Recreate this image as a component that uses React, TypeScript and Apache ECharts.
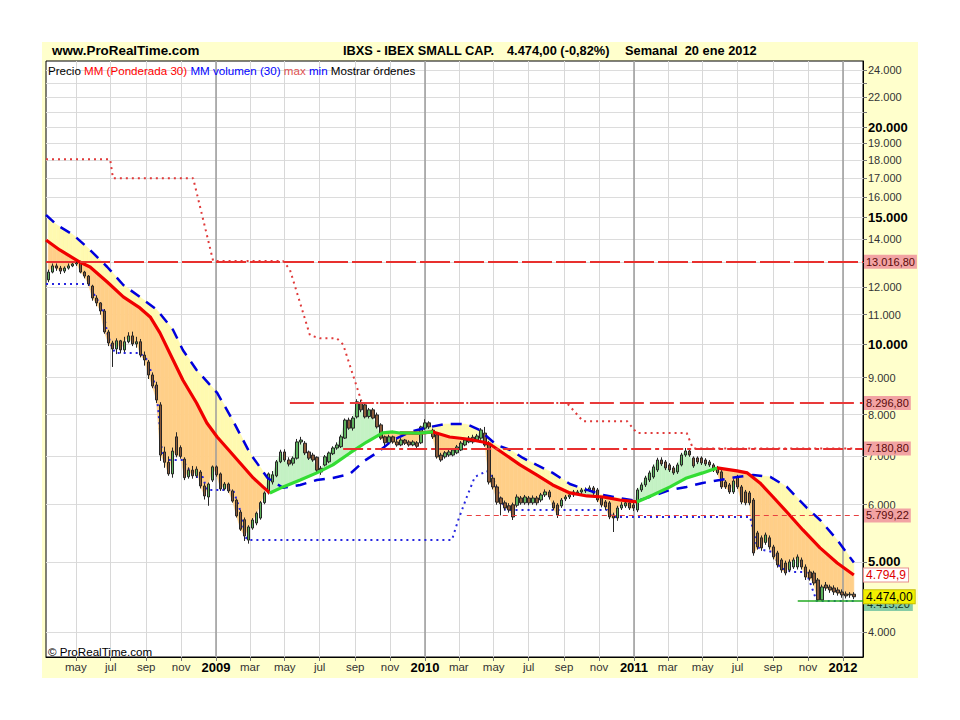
import React, { useEffect, useRef } from "react";
import * as echarts from "echarts";

const FONT = "'Liberation Sans', Arial, Helvetica, sans-serif";

// ---------- data (weekly candles, first week ending 2008-03-14) ----------
const firstWeek = "2008-03-14";
const opens = [
  12290, 12600, 12850, 12760, 12640, 12760, 12850, 12930, 12990, 12600,
  12440, 12050, 11600, 11420, 11130, 10410, 10050, 9860, 10120, 9830,
  10090, 10280, 10020, 10090, 9670, 9460, 9075, 8790, 8250, 7100,
  6870, 6620, 7450, 7200, 6940, 6560, 6700, 6580, 6660, 6370,
  6150, 6490, 6770, 6620, 6310, 6410, 6270, 6090, 5860, 5720,
  5360, 5570, 5660, 5750, 6040, 6230, 6450, 6580, 6880, 7100,
  6920, 6850, 6960, 7330, 7300, 7100, 7030, 6980, 6740, 6810,
  6880, 7060, 7190, 7220, 7420, 7860, 7660, 7940, 8300, 8250,
  7950, 8120, 7990, 7740, 7450, 7310, 7450, 7330, 7260, 7375,
  7330, 7260, 7310, 7310, 7660, 7790, 7610, 7500, 7030, 6990,
  7030, 7030, 7080, 7145, 7260, 7330, 7440, 7375, 7420, 7540,
  7305, 6530, 6350, 6130, 6036, 5980, 6000, 5990, 6130, 6036,
  6130, 6036, 6130, 6091, 6190, 6250, 6036, 5996, 5977, 6111,
  6150, 6190, 6230, 6250, 6270, 6290, 6331, 6290, 6130, 6054,
  6036, 5807, 5752, 5938, 5977, 6036, 5996, 5900, 6290, 6391,
  6492, 6556, 6704, 6920, 6877, 6812, 6747, 6662, 6812, 7032,
  7122, 6965, 6965, 6965, 6920, 6877, 6812, 6747, 6662, 6452,
  6391, 6250, 6556, 6351, 6250, 6230, 6091, 5484, 5399, 5320,
  5399, 5245, 5145, 5031, 4983, 4873, 4920, 4920, 5031, 4920,
  4842, 4826, 4720, 4429, 4645, 4616, 4601, 4572, 4543, 4514,
  4500, 4511,
];
const closes = [
  12600, 12850, 12760, 12640, 12760, 12850, 12930, 12990, 12600, 12440,
  12130, 11600, 11420, 11130, 10410, 10050, 9860, 10120, 9830, 10090,
  10280, 10020, 10090, 9670, 9520, 9075, 8760, 8380, 7030, 6870,
  6620, 7120, 7030, 7000, 6540, 6700, 6580, 6720, 6370, 6170,
  6410, 6770, 6600, 6310, 6410, 6270, 6070, 5790, 5550, 5430,
  5590, 5715, 5840, 6040, 6230, 6620, 6600, 6880, 7100, 6920,
  6830, 6960, 7330, 7375, 7077, 6960, 6920, 6700, 6660, 6990,
  7077, 7190, 7260, 7450, 7860, 7660, 7910, 8330, 8120, 7940,
  8120, 7910, 7690, 7420, 7310, 7450, 7330, 7260, 7375, 7300,
  7260, 7330, 7230, 7690, 7790, 7690, 7450, 6990, 6920, 7080,
  7100, 7145, 7215, 7305, 7375, 7420, 7330, 7470, 7615, 7260,
  6450, 6350, 6050, 6020, 5940, 5900, 5770, 6150, 6036, 6150,
  6036, 6130, 6036, 6190, 6250, 6150, 5938, 5807, 6091, 6150,
  6190, 6250, 6250, 6290, 6290, 6331, 6230, 6091, 5996, 5958,
  5771, 5752, 5938, 5996, 6036, 5938, 5938, 6290, 6391, 6535,
  6641, 6769, 6920, 6834, 6747, 6704, 6641, 6812, 7032, 7122,
  7032, 6790, 6877, 6855, 6834, 6812, 6704, 6641, 6351, 6351,
  6250, 6472, 6351, 6054, 6036, 6036, 5145, 5245, 5228, 5449,
  5245, 5080, 4952, 4873, 4826, 4999, 5031, 5080, 4920, 4765,
  4750, 4675, 4429, 4616, 4601, 4572, 4543, 4529, 4500, 4486,
  4511, 4474,
];
const lows = [
  12200, 12550, 12650, 12520, 12560, 12700, 12800, 12850, 12550, 12350,
  12050, 11500, 11300, 11000, 10350, 9950, 9310, 9700, 9720, 9760,
  10040, 9950, 9900, 9600, 9350, 8960, 8700, 8300, 6900, 6750,
  6580, 6540, 6980, 6950, 6490, 6520, 6520, 6540, 6320, 6100,
  5980, 6450, 6560, 6270, 6280, 6230, 6040, 5760, 5520, 5345,
  5300, 5540, 5620, 5720, 6010, 6200, 6400, 6550, 6850, 6880,
  6780, 6800, 6930, 7270, 7030, 6920, 6880, 6660, 6600, 6780,
  6850, 7030, 7150, 7190, 7400, 7620, 7600, 7900, 8060, 7900,
  7900, 7880, 7650, 7380, 7210, 7280, 7290, 7220, 7230, 7260,
  7220, 7230, 7190, 7280, 7620, 7640, 7400, 6950, 6880, 6950,
  6990, 7000, 7050, 7120, 7230, 7300, 7290, 7330, 7380, 7220,
  6400, 6300, 6000, 5800, 5890, 5850, 5715, 5950, 6000, 6000,
  5990, 6000, 5990, 6050, 6150, 6100, 5900, 5752, 5940, 6070,
  6110, 6150, 6190, 6210, 6230, 6250, 6190, 6050, 5950, 5900,
  5730, 5500, 5700, 5900, 5940, 5900, 5880, 5860, 6250, 6350,
  6450, 6520, 6660, 6790, 6700, 6660, 6600, 6620, 6780, 6990,
  6990, 6750, 6830, 6810, 6790, 6770, 6660, 6600, 6310, 6310,
  6210, 6210, 6310, 6010, 5990, 5990, 5100, 5200, 5180, 5280,
  5200, 5040, 4910, 4830, 4790, 4840, 4890, 4880, 4880, 4720,
  4710, 4640, 4415, 4420, 4560, 4530, 4500, 4490, 4460, 4450,
  4460, 4440,
];
const highs = [
  12700, 12950, 12950, 12850, 12830, 12950, 13000, 13080, 13060, 12650,
  12480, 12100, 11700, 11450, 11200, 10480, 10120, 10200, 10150, 10250,
  10400, 10420, 10250, 10180, 9780, 9520, 9150, 8880, 8320, 7220,
  7000, 7200, 7560, 7250, 6980, 6760, 6790, 6780, 6700, 6420,
  6440, 6800, 6800, 6650, 6450, 6440, 6300, 6120, 5900, 5760,
  5620, 5750, 5870, 6070, 6260, 6650, 6680, 6920, 7150, 7160,
  6980, 7000, 7400, 7450, 7350, 7130, 7080, 7000, 6790, 7030,
  7110, 7230, 7320, 7500, 7900, 7920, 7960, 8400, 8380, 8300,
  8170, 8170, 8050, 7780, 7480, 7500, 7480, 7400, 7420, 7400,
  7370, 7370, 7350, 7720, 7880, 7830, 7650, 7540, 7080, 7120,
  7150, 7180, 7260, 7350, 7420, 7470, 7500, 7520, 7660, 7690,
  7350, 6600, 6400, 6160, 6080, 6030, 6040, 6200, 6170, 6190,
  6170, 6180, 6170, 6230, 6300, 6290, 6080, 6030, 6130, 6190,
  6230, 6290, 6290, 6330, 6340, 6380, 6370, 6330, 6170, 6090,
  6070, 5850, 5980, 6050, 6070, 6080, 6040, 6330, 6440, 6580,
  6690, 6820, 6970, 6980, 6920, 6850, 6790, 6860, 7080, 7190,
  7170, 7000, 7000, 7000, 6960, 6920, 6850, 6790, 6700, 6490,
  6430, 6510, 6600, 6390, 6290, 6270, 6130, 5520, 5440, 5490,
  5440, 5280, 5180, 5060, 5020, 5040, 5070, 5120, 5070, 4960,
  4880, 4860, 4750, 4650, 4690, 4650, 4640, 4610, 4580, 4550,
  4540, 4540,
];

// MM (Ponderada 30)
const maPoints: [string, number][] = [
  ["2008-03-10", 13956], ["2008-04-03", 13520], ["2008-05-08", 13010], ["2008-05-26", 12805],
  ["2008-06-25", 12208], ["2008-07-23", 11640], ["2008-08-21", 11238], ["2008-09-08", 10920],
  ["2008-09-25", 10378], ["2008-10-18", 9520], ["2008-11-04", 8930], ["2008-11-28", 8299],
  ["2008-12-16", 7786], ["2009-01-03", 7447], ["2009-01-20", 7191], ["2009-02-12", 6855],
  ["2009-03-07", 6535], ["2009-03-24", 6351], ["2009-04-05", 6230], ["2009-04-28", 6351],
  ["2009-05-28", 6492], ["2009-06-26", 6641], ["2009-07-24", 6812], ["2009-08-23", 7077],
  ["2009-09-21", 7328], ["2009-10-19", 7543], ["2009-11-06", 7567], ["2009-11-18", 7543],
  ["2009-12-23", 7540], ["2010-01-15", 7567], ["2010-02-13", 7447], ["2010-03-15", 7400],
  ["2010-04-12", 7328], ["2010-04-24", 7283], ["2010-05-17", 7077], ["2010-06-16", 6812],
  ["2010-07-15", 6598], ["2010-08-12", 6391], ["2010-09-11", 6230], ["2010-10-11", 6170],
  ["2010-11-08", 6150], ["2010-12-07", 6091], ["2011-01-06", 6054], ["2011-02-03", 6190],
  ["2011-03-05", 6351], ["2011-04-03", 6535], ["2011-05-01", 6641], ["2011-05-26", 6747],
  ["2011-06-30", 6683], ["2011-07-18", 6641], ["2011-08-09", 6432], ["2011-09-01", 6150],
  ["2011-09-25", 5862], ["2011-10-23", 5536], ["2011-11-22", 5228], ["2011-12-22", 4983],
  ["2012-01-20", 4795],
];
const maRisingRanges: [string, string][] = [
  ["2009-04-05", "2009-11-18"],
  ["2009-12-23", "2010-01-15"],
  ["2011-01-06", "2011-05-26"],
];

// MM volumen (30)
const volMaPoints: [string, number][] = [
  ["2008-03-10", 15115], ["2008-03-29", 14640], ["2008-04-27", 14182], ["2008-05-26", 13520],
  ["2008-06-25", 12805], ["2008-07-23", 12092], ["2008-08-21", 11638], ["2008-09-20", 11166],
  ["2008-10-18", 10477], ["2008-11-04", 9829], ["2008-11-28", 9220], ["2009-01-03", 8570],
  ["2009-01-30", 7860], ["2009-03-01", 7077], ["2009-04-01", 6535], ["2009-04-28", 6331],
  ["2009-05-28", 6391], ["2009-06-26", 6492], ["2009-07-24", 6535], ["2009-08-23", 6620],
  ["2009-09-17", 6900], ["2009-10-11", 7100], ["2009-11-06", 7375], ["2009-12-06", 7567],
  ["2010-01-01", 7664], ["2010-02-05", 7760], ["2010-03-15", 7760], ["2010-04-06", 7615],
  ["2010-05-06", 7260], ["2010-05-30", 7145], ["2010-06-21", 6965], ["2010-07-15", 6812],
  ["2010-08-12", 6641], ["2010-09-11", 6411], ["2010-10-11", 6290], ["2010-11-08", 6190],
  ["2010-12-07", 6130], ["2011-01-06", 6072], ["2011-02-03", 6170], ["2011-03-05", 6290],
  ["2011-04-03", 6351], ["2011-05-01", 6432], ["2011-05-31", 6492], ["2011-06-30", 6556],
  ["2011-07-28", 6598], ["2011-08-27", 6556], ["2011-09-25", 6351], ["2011-10-30", 5938],
  ["2011-11-22", 5715], ["2011-12-22", 5362], ["2012-01-20", 4990],
];

// max / min
const maxPoints: [string, number][] = [
  ["2008-03-10", 18050], ["2008-06-30", 18050], ["2008-07-05", 17000], ["2008-11-22", 17000],
  ["2008-12-27", 13050], ["2009-04-28", 13050], ["2009-05-10", 12700], ["2009-06-14", 10300],
  ["2009-07-02", 10200], ["2009-07-31", 10200], ["2009-08-11", 10000], ["2009-09-13", 8297],
  ["2010-09-06", 8297], ["2010-10-04", 7830], ["2010-12-20", 7830], ["2011-01-06", 7543],
  ["2011-04-03", 7543], ["2011-04-14", 7181], ["2012-01-20", 7181],
];
const minPoints: [string, number][] = [
  ["2008-03-10", 12130], ["2008-05-17", 12130], ["2008-05-26", 12092], ["2008-06-04", 11640],
  ["2008-06-16", 11300], ["2008-06-25", 10378], ["2008-07-03", 9924], ["2008-07-09", 9736],
  ["2008-08-21", 9736], ["2008-09-03", 9520], ["2008-09-17", 8761], ["2008-09-22", 8140],
  ["2008-09-29", 7010], ["2008-10-07", 6920], ["2008-11-04", 6920], ["2008-11-11", 6769],
  ["2008-11-25", 6556], ["2008-12-09", 6556], ["2008-12-16", 6290], ["2009-01-31", 6290],
  ["2009-02-12", 5900], ["2009-02-21", 5415], ["2009-02-26", 5362], ["2010-02-17", 5362],
  ["2010-02-28", 5715], ["2010-03-15", 6150], ["2010-03-29", 6556], ["2010-04-19", 6680],
  ["2010-04-28", 6577], ["2010-05-12", 6150], ["2010-05-21", 5900], ["2010-11-15", 5900],
  ["2010-11-24", 5770], ["2011-07-23", 5770], ["2011-07-28", 5536], ["2011-08-04", 5245],
  ["2011-08-14", 5194], ["2011-09-01", 5160], ["2011-09-13", 4905], ["2011-10-05", 4842],
  ["2011-10-29", 4842], ["2011-11-16", 4415], ["2012-01-20", 4415],
];

// horizontal levels
const levelValues = [13016.8, 8296.8, 7180.8, 5799.22];
const levelStarts = ["2008-03-10", "2009-05-10", "2009-08-11", "2010-03-15"];
const supportValue = 4415.2;
const supportStart = "2011-10-14";
const lastClose = 4474.0;
const lastMA = 4794.9;

// axes
const yTickValues = [4000, 5000, 6000, 7000, 8000, 9000, 10000, 11000, 12000, 14000,
  15000, 16000, 17000, 18000, 19000, 20000, 22000, 24000];
const yExtraTicks = [13000, 21000, 23000];
const yBoldValues = [5000, 10000, 15000, 20000];
const monthNames = ["ene", "feb", "mar", "abr", "may", "jun", "jul", "ago", "sep", "oct", "nov", "dic"];
const yearLines = ["2009-01-01", "2010-01-01", "2011-01-01", "2012-01-01"];
const X_MIN = "2008-03-10";
const X_MAX = "2012-02-05";
const Y_MIN = 3692;
const Y_MAX = 24700;

// ---------- helpers ----------
const DAY = 86400000;
const T = (s: string) => Date.parse(s + "T00:00:00Z");
function fmtNum(v: number, dec: number) {
  const s = v.toFixed(dec);
  const [i, f] = s.split(".");
  const is = i.replace(/\B(?=(\d{3})+(?!\d))/g, ".");
  return f ? is + "," + f : is;
}
function interp(pts: number[][], t: number) {
  if (t <= pts[0][0]) return pts[0][1];
  for (let k = 0; k < pts.length - 1; k++) {
    const a = pts[k], b = pts[k + 1];
    if (t <= b[0]) return a[1] + ((b[1] - a[1]) * (t - a[0])) / (b[0] - a[0]);
  }
  return pts[pts.length - 1][1];
}

export default function App() {
  const ref = useRef<HTMLDivElement>(null);
  useEffect(() => {
    if (!ref.current) return;
    const chart = echarts.init(ref.current, undefined, { renderer: "svg" });

    const weekT = opens.map((_, i) => T(firstWeek) + i * 7 * DAY);
    const candleData = weekT.map((t, i) => [t, opens[i], closes[i], lows[i], highs[i]]);
    const ma = maPoints.map((p) => [T(p[0]), p[1]]);
    const vol = volMaPoints.map((p) => [T(p[0]), p[1]]);
    const rising = maRisingRanges.map((r) => [T(r[0]), T(r[1])]);
    const isRising = (t: number) => rising.some((r) => t >= r[0] && t <= r[1]);
    const isFalling = (t: number) => !rising.some((r) => t > r[0] && t < r[1]);
    const maRed = ma.map((p) => (isFalling(p[0]) ? p : [p[0], null]));
    const maGreen = ma.map((p) => (isRising(p[0]) ? p : [p[0], null]));

    const xMin = T(X_MIN), xMax = T(X_MAX);
    const xTicks: number[] = [];
    for (let y = 2008; y <= 2012; y++)
      for (let m = 0; m < 12; m += 2) {
        const t = Date.UTC(y, m, 1);
        if (t > xMin && t < xMax) xTicks.push(t);
      }

    const ORANGE = "#FFCF88", GREENF = "#C4F2C4", YELLOW = "#FFFAB0";

    const renderFills = (params: any, api: any) => {
      const children: any[] = [];
      for (let i = 0; i < weekT.length - 1; i++) {
        const t0 = weekT[i], t1 = weekT[i + 1];
        const m0 = interp(ma, t0), m1 = interp(ma, t1);
        const b0 = interp(vol, t0), b1 = interp(vol, t1);
        if (b0 + b1 > m0 + m1) {
          children.push({
            type: "polygon",
            shape: { points: [api.coord([t0, m0]), api.coord([t1, m1]), api.coord([t1, b1]), api.coord([t0, b0])] },
            style: { fill: YELLOW, stroke: YELLOW, lineWidth: 0.6 },
          });
        }
      }
      for (let i = 0; i < weekT.length - 1; i++) {
        const t0 = weekT[i], t1 = weekT[i + 1];
        const m0 = interp(ma, t0), m1 = interp(ma, t1);
        const c0 = closes[i], c1 = closes[i + 1];
        const col = c0 + c1 < m0 + m1 ? ORANGE : GREENF;
        children.push({
          type: "polygon",
          shape: { points: [api.coord([t0, c0]), api.coord([t1, c1]), api.coord([t1, m1]), api.coord([t0, m0])] },
          style: { fill: col, stroke: col, lineWidth: 0.6 },
        });
      }
      return { type: "group", children };
    };

    const levelStyles = [
      { color: "#E8302E", width: 2, type: [30, 4] },
      { color: "#E83A3A", width: 2, type: [24, 6] },
      { color: "#E83030", width: 2, type: [20, 4, 4, 4] },
      { color: "#E84040", width: 1.2, type: [5, 4] },
    ];
    const pinkLabel = (text: string) => ({
      show: true, position: "end", distance: 1, formatter: text,
      backgroundColor: "#F2A3A3", color: "#5A0A0A", fontSize: 11, fontFamily: FONT,
      padding: [2, 2, 1, 2],
    });

    const levelMarkData: any[] = levelValues.map((v, k) => [
      { coord: [T(levelStarts[k]), v], lineStyle: levelStyles[k], label: pinkLabel(fmtNum(v, 2)) },
      { coord: [xMax, v] },
    ]);
    levelMarkData.push([
      {
        coord: [T(supportStart), supportValue],
        lineStyle: { color: "#22AA22", width: 1.5, type: "solid" },
        label: {
          show: true, position: "end", distance: 1, formatter: fmtNum(supportValue, 2),
          backgroundColor: "#86CCA6", color: "#103020", fontSize: 11, fontFamily: FONT, padding: [2, 3, 1, 3],
          offset: [0, 3],
        },
      },
      { coord: [xMax, supportValue] },
    ]);

    const hidden = { color: "rgba(0,0,0,0)", width: 0.01, type: "solid" };

    const option: any = {
      animation: false,
      backgroundColor: "transparent",
      textStyle: { fontFamily: FONT },
      grid: {
        left: 46, right: 97, top: 61, bottom: 63,
        show: true, backgroundColor: "#FFFFFF", borderColor: "#000", borderWidth: 1,
      },
      xAxis: {
        type: "value", min: xMin, max: xMax, scale: true,
        axisLine: { show: true, lineStyle: { color: "#000" } },
        axisTick: { show: true, customValues: xTicks, length: 4, lineStyle: { color: "#777" } },
        axisLabel: {
          customValues: xTicks, margin: 4, fontSize: 11.5, color: "#333", fontFamily: FONT,
          formatter: (val: number) => {
            const d = new Date(val);
            const m = d.getUTCMonth();
            return m === 0 ? "{y|" + d.getUTCFullYear() + "}" : monthNames[m];
          },
          rich: { y: { fontSize: 13, fontWeight: "bold", color: "#000", fontFamily: FONT } },
        },
        splitLine: { show: true, lineStyle: { color: "#D8D8D8", width: 1 } },
      },
      yAxis: {
        type: "log", logBase: 10, min: Y_MIN, max: Y_MAX, position: "right",
        axisLine: { show: true, lineStyle: { color: "#000" } },
        axisTick: { show: true, customValues: yTickValues.concat(yExtraTicks), length: 4, lineStyle: { color: "#777" } },
        axisLabel: {
          customValues: yTickValues, margin: 5, fontSize: 11, color: "#333", fontFamily: FONT,
          formatter: (v: number) => {
            const r = Math.round(v);
            const s = fmtNum(r, 0);
            return yBoldValues.indexOf(r) >= 0 ? "{b|" + s + "}" : s;
          },
          rich: { b: { fontSize: 13, fontWeight: "bold", color: "#000", fontFamily: FONT } },
        },
        splitLine: { show: true, lineStyle: { color: "#DCDCDC", width: 1 } },
      },
      graphic: [
        { type: "text", left: 52, top: 44, style: { text: "www.ProRealTime.com", font: "bold 13.4px " + FONT, fill: "#000" } },
        { type: "text", left: 343, top: 44, style: { text: "IBXS - IBEX SMALL CAP.", font: "bold 12.8px " + FONT, fill: "#000" } },
        { type: "text", left: 507, top: 44, style: { text: "4.474,00 (-0,82%)", font: "bold 12.8px " + FONT, fill: "#000" } },
        { type: "text", left: 625, top: 44, style: { text: "Semanal  20 ene 2012", font: "bold 12.8px " + FONT, fill: "#000" } },
        {
          type: "text", left: 48, top: 64, z: 100,
          style: {
            text: "{k|Precio} {r|MM (Ponderada 30)} {b|MM volumen (30)} {m|max} {b|min} {k|Mostrar órdenes}",
            font: "11.6px " + FONT,
            rich: {
              k: { fill: "#000", fontSize: 11.6, fontFamily: FONT },
              r: { fill: "#FF0000", fontSize: 11.6, fontFamily: FONT },
              b: { fill: "#0000FF", fontSize: 11.6, fontFamily: FONT },
              m: { fill: "#E05050", fontSize: 11.6, fontFamily: FONT },
            },
          },
        },
        { type: "text", left: 48, top: 645, z: 100, style: { text: "© ProRealTime.com", font: "11.6px " + FONT, fill: "#000" } },
      ],
      series: [
        {
          type: "custom", name: "fills", z: 1, silent: true,
          data: [[weekT[0], closes[0]]], encode: { x: 0, y: 1 },
          renderItem: renderFills,
        },
        {
          type: "line", name: "years", z: 2, silent: true,
          data: [[xMax, 10000]], symbol: "none", lineStyle: hidden,
          markLine: {
            silent: true, symbol: ["none", "none"], z: 2,
            lineStyle: { color: "#9C9C9C", width: 1.5, type: "solid" },
            label: { show: false },
            data: yearLines.map((s) => ({ xAxis: T(s) })),
          },
        },
        {
          type: "line", name: "max", z: 3, data: maxPoints.map((p) => [T(p[0]), p[1]]),
          symbol: "none", lineStyle: { color: "#E03A3A", width: 2, type: [2, 4], cap: "butt" },
        },
        {
          type: "line", name: "min", z: 3, data: minPoints.map((p) => [T(p[0]), p[1]]),
          symbol: "none", lineStyle: { color: "#2626E0", width: 2, type: [2, 4], cap: "butt" },
        },
        {
          type: "candlestick", name: "Precio", z: 5, data: candleData, encode: { x: 0, y: [1, 2, 3, 4] },
          barWidth: 3,
          itemStyle: { color: "#5DB35D", color0: "#8A5A3A", borderColor: "#262626", borderColor0: "#262626", borderWidth: 1 },
        },
        {
          type: "line", name: "MM volumen (30)", z: 6, data: vol, symbol: "none",
          lineStyle: { color: "#0000DD", width: 2.5, type: [11, 8] },
        },
        {
          type: "line", name: "MM red", z: 7, data: maRed, symbol: "none", connectNulls: false,
          lineStyle: { color: "#F00000", width: 3.2 },
        },
        {
          type: "line", name: "MM green", z: 7, data: maGreen, symbol: "none", connectNulls: false,
          lineStyle: { color: "#33DD33", width: 3.2 },
        },
        {
          type: "line", name: "levels", z: 8, silent: true,
          data: [[xMax, 10000]], symbol: "none", lineStyle: hidden,
          markLine: { silent: true, symbol: ["none", "none"], z: 8, data: levelMarkData },
        },
        {
          type: "line", name: "lastLabels", z: 10, silent: true,
          data: [[xMax, 10000]], symbol: "none", lineStyle: hidden,
          markLine: {
            silent: true, symbol: ["none", "none"], z: 10,
            data: [
              [
                {
                  coord: [xMin, lastMA], lineStyle: hidden,
                  label: {
                    show: true, position: "end", distance: 1, formatter: fmtNum(lastMA, 1),
                    backgroundColor: "#FFFFFF", borderColor: "#E89090", borderWidth: 1,
                    color: "#E00000", fontSize: 12, fontFamily: FONT, padding: [1, 2, 0, 2],
                  },
                },
                { coord: [xMax, lastMA] },
              ],
              [
                {
                  coord: [xMin, lastClose], lineStyle: hidden,
                  label: {
                    show: true, position: "end", distance: 1, formatter: fmtNum(lastClose, 2),
                    backgroundColor: "#F2F000", borderColor: "#C8C000", borderWidth: 1,
                    color: "#000", fontSize: 12, fontFamily: FONT, padding: [1, 2, 0, 2],
                  },
                },
                { coord: [xMax, lastClose] },
              ],
            ],
          },
        },
      ],
    };
    chart.setOption(option);
    return () => chart.dispose();
  }, []);

  return (
    <div style={{ position: "absolute", left: 0, top: 0, width: 960, height: 720, background: "#FFFFFF" }}>
      <div style={{ position: "absolute", left: 42, top: 42, width: 876, height: 636, background: "#FFFFCC" }} />
      <div ref={ref} style={{ position: "absolute", left: 0, top: 0, width: 960, height: 720 }} />
    </div>
  );
}
